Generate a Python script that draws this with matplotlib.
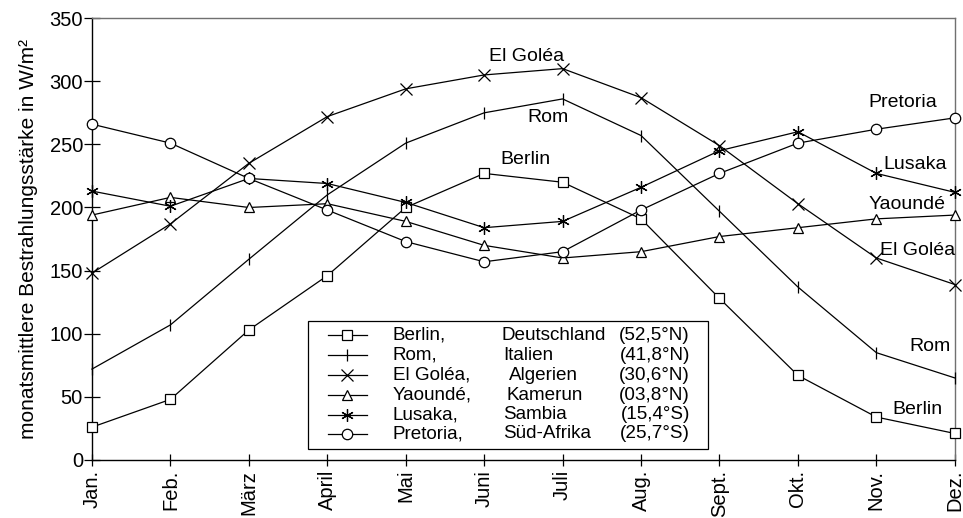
import numpy as np
import matplotlib.pyplot as plt
from matplotlib.patches import Rectangle

plt.rcParams['font.family'] = ['Liberation Sans', 'DejaVu Sans']

months = ['Jan.', 'Feb.', 'März', 'April', 'Mai', 'Juni', 'Juli', 'Aug.',
          'Sept.', 'Okt.', 'Nov.', 'Dez.']

berlin = [26, 48, 103, 146, 200, 227, 220, 191, 128, 67, 34, 21]
rom = [72, 107, 159, 210, 251, 275, 286, 257, 197, 137, 85, 65]
el_golea = [148, 187, 235, 272, 294, 305, 310, 287, 249, 203, 160, 139]
yaounde = [194, 208, 200, 203, 189, 170, 160, 165, 177, 184, 191, 194]
lusaka = [213, 201, 223, 219, 204, 184, 189, 216, 245, 260, 227, 212]
pretoria = [266, 251, 223, 198, 173, 157, 165, 198, 227, 251, 262, 271]

cities = ['Berlin,', 'Rom,', 'El Goléa,', 'Yaoundé,', 'Lusaka,', 'Pretoria,']
countries = ['Deutschland', 'Italien', 'Algerien', 'Kamerun', 'Sambia', 'Süd-Afrika']
latitudes = ['(52,5°N)', '(41,8°N)', '(30,6°N)', '(03,8°N)', '(15,4°S)', '(25,7°S)']

series = [berlin, rom, el_golea, yaounde, lusaka, pretoria]
markers = ['s', '|', 'x', '^', (6, 2, 0), 'o']
msizes = [7.5, 9, 8, 7.5, 9, 7.5]

fig = plt.figure(figsize=(9.63, 5.18), dpi=100)
ax = fig.add_axes([0.0955, 0.112, 0.896, 0.853])

x = np.arange(len(months))
for vals, m, ms in zip(series, markers, msizes):
    ax.plot(x, vals, color='black', lw=0.9, marker=m, ms=ms,
            mfc='white', mec='black', mew=0.9, clip_on=False, zorder=3)

fs = 14.5   # ticks
fl = 14     # labels inside the plot
fg = 13.6   # legend text
ax.set_xlim(0, 11)
ax.set_ylim(0, 350)
ax.set_xticks(x)
ax.set_xticklabels(months, rotation=90, fontsize=fs)
ax.set_yticks(np.arange(0, 351, 50))
ax.tick_params(axis='y', direction='inout', length=11, width=0.9, labelsize=fs, pad=1)
ax.tick_params(axis='x', direction='inout', length=8, width=0.9, pad=3)
ax.set_ylabel('monatsmittlere Bestrahlungsstärke in W/m²', fontsize=15, labelpad=8)

for s in ['left', 'bottom']:
    ax.spines[s].set_linewidth(1.0)
for s in ['top', 'right']:
    ax.spines[s].set_color('#707070')
    ax.spines[s].set_linewidth(1.0)

# labels in the plot
ax.text(5.545, 320, 'El Goléa', ha='center', va='center', fontsize=fl)
ax.text(5.81, 271, 'Rom', ha='center', va='center', fontsize=fl)
ax.text(5.52, 238, 'Berlin', ha='center', va='center', fontsize=fl)
ax.text(10.34, 283, 'Pretoria', ha='center', va='center', fontsize=fl)
ax.text(10.49, 234, 'Lusaka', ha='center', va='center', fontsize=fl)
ax.text(10.39, 202, 'Yaoundé', ha='center', va='center', fontsize=fl)
ax.text(10.52, 166, 'El Goléa', ha='center', va='center', fontsize=fl)
ax.text(10.68, 90, 'Rom', ha='center', va='center', fontsize=fl)
ax.text(10.52, 40, 'Berlin', ha='center', va='center', fontsize=fl)

# hand-made legend box (axes fraction coordinates)
def ax_x(px):
    return (px - 92) / 863.0

def ax_y(py):
    return (460 - py) / 442.0

ax.add_patch(Rectangle((ax_x(308), ax_y(449)), ax_x(708) - ax_x(308),
                       ax_y(321) - ax_y(449), transform=ax.transAxes,
                       fc='white', ec='black', lw=0.9, zorder=4))
row_y = [335, 355, 375, 395, 415, 434]
country_x = [502, 503, 509, 507, 503, 503]
for i in range(6):
    yy = ax_y(row_y[i])
    ax.plot([ax_x(328), ax_x(367)], [yy, yy], color='black', lw=0.9,
            transform=ax.transAxes, zorder=5, clip_on=False)
    ax.plot([ax_x(347.5)], [yy], marker=markers[i], ms=msizes[i], mfc='white',
            mec='black', mew=0.9, color='black', transform=ax.transAxes,
            zorder=6, clip_on=False)
    ax.text(ax_x(393), yy, cities[i], transform=ax.transAxes, ha='left',
            va='center', fontsize=fg, zorder=6)
    ax.text(ax_x(country_x[i]), yy, countries[i], transform=ax.transAxes,
            ha='left', va='center', fontsize=fg, zorder=6)
    ax.text(ax_x(690), yy, latitudes[i], transform=ax.transAxes, ha='right',
            va='center', fontsize=fg, zorder=6)

fig.savefig('out.png', dpi=100)
